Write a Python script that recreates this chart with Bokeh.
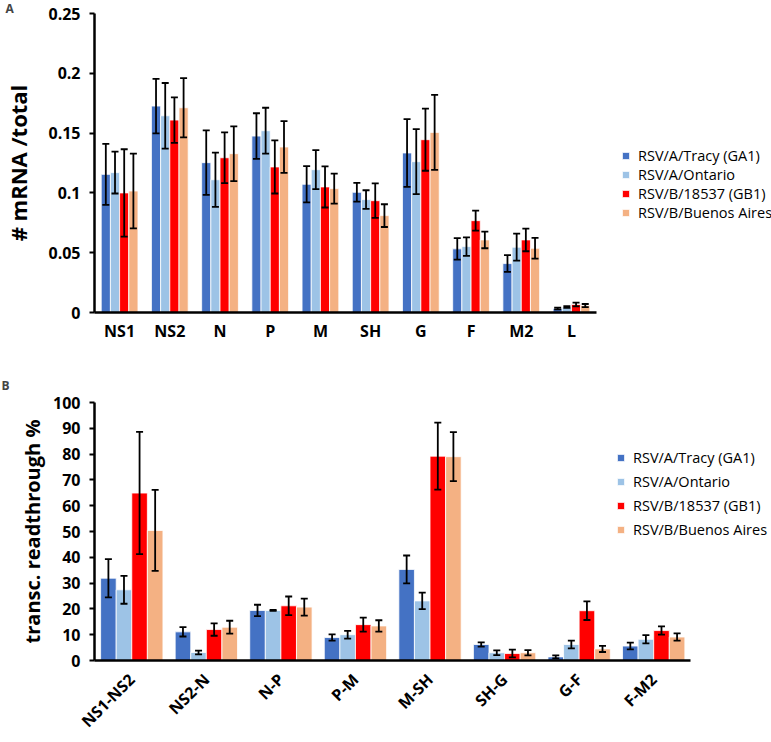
from bokeh.plotting import figure
from bokeh.models import (ColumnDataSource, Whisker, TeeHead, Legend, LegendItem,
                          FixedTicker, NumeralTickFormatter, Range1d)
from bokeh.transform import dodge
from bokeh.layouts import column
from bokeh.embed import file_html
from bokeh.resources import INLINE
import math

# ---------------- data ----------------
series = ["RSV/A/Tracy (GA1)", "RSV/A/Ontario", "RSV/B/18537 (GB1)", "RSV/B/Buenos Aires"]
colors = ["#4472C4", "#9DC3E6", "#FF0000", "#F4B183"]

cats_a = ["NS1", "NS2", "N", "P", "M", "SH", "G", "F", "M2", "L"]
tracy_a = [0.1155, 0.1726, 0.1253, 0.1475, 0.1072, 0.1005, 0.1334, 0.0532, 0.0409, 0.0033]
tracy_a_err = [0.0255, 0.0228, 0.0269, 0.0191, 0.0152, 0.0078, 0.0283, 0.0090, 0.0070, 0.0007]
ontario_a = [0.1170, 0.1645, 0.1110, 0.1520, 0.1194, 0.0944, 0.1261, 0.0551, 0.0546, 0.0046]
ontario_a_err = [0.0175, 0.0274, 0.0227, 0.0192, 0.0163, 0.0078, 0.0272, 0.0077, 0.0113, 0.0007]
gb1_a = [0.1000, 0.1609, 0.1294, 0.1217, 0.1050, 0.0935, 0.1445, 0.0768, 0.0607, 0.0067]
gb1_a_err = [0.0365, 0.0190, 0.0212, 0.0222, 0.0172, 0.0144, 0.0260, 0.0084, 0.0095, 0.0015]
ba_a = [0.1016, 0.1712, 0.1328, 0.1384, 0.1036, 0.0810, 0.1506, 0.0607, 0.0537, 0.0058]
ba_a_err = [0.0312, 0.0248, 0.0229, 0.0216, 0.0125, 0.0095, 0.0313, 0.0070, 0.0087, 0.0013]
yticks_a = [0, 0.05, 0.1, 0.15, 0.2, 0.25]

cats_b = ["NS1-NS2", "NS2-N", "N-P", "P-M", "M-SH", "SH-G", "G-F", "F-M2"]
tracy_b = [31.9, 11.1, 19.4, 8.9, 35.3, 6.2, 1.4, 5.6]
tracy_b_err = [7.4, 1.8, 2.2, 1.2, 5.4, 0.8, 0.6, 1.3]
ontario_b = [27.4, 3.1, 19.4, 10.0, 23.1, 3.0, 6.2, 8.2]
ontario_b_err = [5.4, 0.7, 0.2, 1.5, 3.2, 0.9, 1.5, 1.6]
gb1_b = [64.9, 12.0, 21.2, 13.9, 79.2, 2.7, 19.3, 11.6]
gb1_b_err = [23.7, 2.4, 3.6, 2.7, 13.0, 1.5, 3.6, 1.6]
ba_b = [50.4, 12.9, 20.7, 13.4, 79.0, 3.0, 4.5, 9.1]
ba_b_err = [15.7, 2.5, 3.3, 2.2, 9.5, 1.0, 1.2, 1.4]
yticks_b = [0, 10, 20, 30, 40, 50, 60, 70, 80, 90, 100]

FONT = "Open Sans"
W = 771


def make_panel(cats, vals, errs, yticks, ymax, height, borders, px_per_cat, bar_w,
               ylabel, ylabel_size, ylabel_standoff, tick_fmt, label_angle, label_standoff,
               legend_loc, legend_row_h, tag, tag_standoff):
    bl, bt, bb = borders
    frame_w = W - bl
    pos = list(range(len(cats)))
    x_end = -0.5 + frame_w / px_per_cat
    p = figure(x_range=Range1d(-0.5, x_end), y_range=Range1d(0, ymax), width=W, height=height,
               output_backend="svg", toolbar_location=None,
               min_border_left=bl, min_border_right=0, min_border_top=bt, min_border_bottom=bb)
    p.outline_line_color = None
    p.xgrid.grid_line_color = None
    p.ygrid.grid_line_color = None
    src = {"x": pos}
    for i in range(4):
        src[f"v{i}"] = vals[i]
        src[f"lo{i}"] = [v - e for v, e in zip(vals[i], errs[i])]
        src[f"hi{i}"] = [v + e for v, e in zip(vals[i], errs[i])]
    source = ColumnDataSource(src)
    offsets = [(-1.5 + i) * bar_w for i in range(4)]
    items = []
    for i in range(4):
        r = p.vbar(x=dodge("x", offsets[i]), top=f"v{i}", width=bar_w,
                   source=source, fill_color=colors[i], line_color="white", line_width=0.8)
        items.append(LegendItem(label=series[i], renderers=[r]))
    for i in range(4):
        w = Whisker(base=dodge("x", offsets[i]), upper=f"hi{i}", lower=f"lo{i}",
                    source=source, line_color="black", line_width=1.8, level="annotation",
                    upper_head=TeeHead(size=7, line_width=1.8, line_color="black"),
                    lower_head=TeeHead(size=7, line_width=1.8, line_color="black"))
        p.add_layout(w)

    p.yaxis.ticker = FixedTicker(ticks=yticks)
    p.yaxis.formatter = tick_fmt
    p.yaxis.minor_tick_line_color = None
    p.yaxis.major_tick_in = 0
    p.yaxis.major_tick_out = 5
    p.yaxis.major_tick_line_width = 2
    p.yaxis.axis_label = ylabel
    p.yaxis.axis_label_text_font = FONT
    p.yaxis.axis_label_text_font_style = "bold"
    p.yaxis.axis_label_text_font_size = ylabel_size
    p.yaxis.axis_label_text_color = "black"
    p.yaxis.axis_label_standoff = ylabel_standoff
    for ax in (p.xaxis, p.yaxis):
        ax.axis_line_color = "black"
        ax.axis_line_width = 2.5
        ax.major_label_text_font = FONT
        ax.major_label_text_font_style = "bold"
        ax.major_label_text_font_size = "16px"
        ax.major_label_text_color = "black"
    p.yaxis.major_label_standoff = 9
    p.xaxis.ticker = FixedTicker(ticks=pos)
    p.xaxis.major_label_overrides = {i: c for i, c in zip(pos, cats)}
    p.xaxis.bounds = (-0.5, len(cats) - 0.5)
    p.xaxis.major_tick_line_color = None
    p.xaxis.minor_tick_line_color = None
    p.xaxis.major_label_standoff = label_standoff
    if label_angle:
        p.xaxis.major_label_orientation = label_angle

    leg = Legend(items=items, location=legend_loc, orientation="vertical",
                 glyph_width=9, glyph_height=9, label_height=legend_row_h, spacing=0,
                 padding=0, margin=0, label_standoff=8,
                 label_text_font=FONT, label_text_font_size="14.5px", label_text_color="black",
                 border_line_color=None, background_fill_alpha=0)
    p.add_layout(leg, "center")

    p.title.text = tag
    p.title.text_font = FONT
    p.title.text_font_style = "bold"
    p.title.text_font_size = "12px"
    p.title.align = "left"
    p.title.offset = -bl - 3
    p.title.standoff = tag_standoff
    return p


pa = make_panel(cats_a, [tracy_a, ontario_a, gb1_a, ba_a],
                [tracy_a_err, ontario_a_err, gb1_a_err, ba_a_err],
                yticks_a, 0.25, 363, (86, 13, 51), 50.8, 0.183,
                "# mRNA /total", "22px", 12, NumeralTickFormatter(format="0.[00]"), None, 1,
                (527, 90), 18, "A", -6)
pb = make_panel(cats_b, [tracy_b, ontario_b, gb1_b, ba_b],
                [tracy_b_err, ontario_b_err, gb1_b_err, ba_b_err],
                yticks_b, 100, 379, (90, 39, 81), 75.0, 0.209,
                "transc. readthrough %", "20px", 4, NumeralTickFormatter(format="0"), math.pi / 4, 10,
                (522, 119), 24, "B", 18)

layout = column(pa, pb)
open("out.html", "w").write(file_html(layout, INLINE))
